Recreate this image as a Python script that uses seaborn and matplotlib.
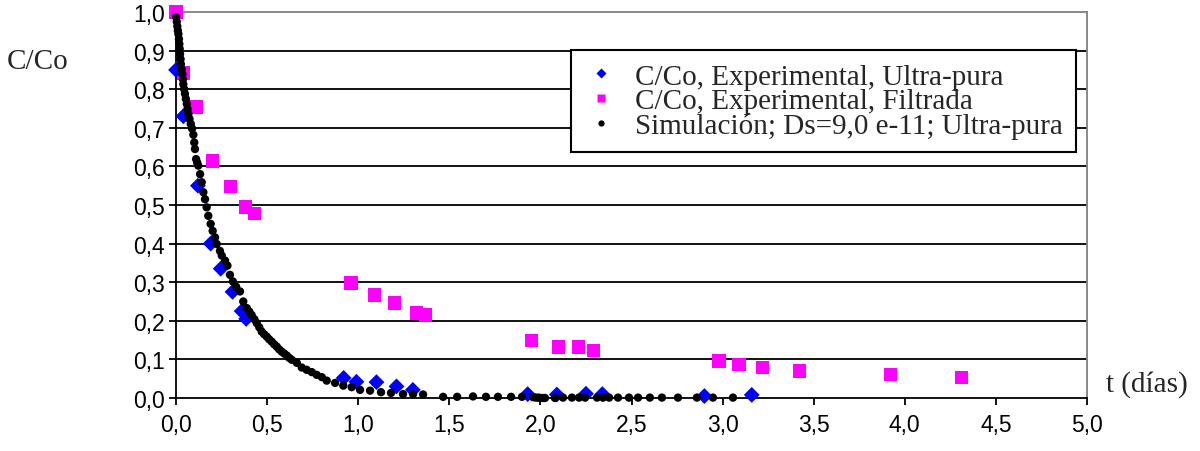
import matplotlib
matplotlib.use("Agg")
import matplotlib.pyplot as plt
from matplotlib.lines import Line2D
from matplotlib.ticker import FuncFormatter
import seaborn as sns
import pandas as pd

# Experimental C/Co, ultra-pure water
ultra_t = [0.0, 0.04, 0.12, 0.19, 0.245, 0.31, 0.36, 0.385, 0.92, 0.99, 1.10,
           1.21, 1.30, 1.93, 2.09, 2.25, 2.34, 2.90, 3.16]
ultra_c = [0.85, 0.73, 0.55, 0.40, 0.335, 0.275, 0.225, 0.205, 0.052, 0.042, 0.041,
           0.030, 0.021, 0.010, 0.009, 0.011, 0.010, 0.005, 0.008]

# Experimental C/Co, filtered water
filt_t = [0.0, 0.04, 0.11, 0.20, 0.30, 0.38, 0.43, 0.96, 1.09, 1.20, 1.32, 1.37,
          1.95, 2.10, 2.21, 2.29, 2.98, 3.09, 3.22, 3.42, 3.92, 4.31]
filt_c = [1.0, 0.842, 0.754, 0.614, 0.547, 0.495, 0.477, 0.298, 0.267, 0.246, 0.220, 0.215,
          0.148, 0.132, 0.132, 0.122, 0.096, 0.086, 0.080, 0.070, 0.060, 0.054]

# Simulated curve, Ds = 9.0e-11, ultra-pure water
sim_t = [0.000, 0.004, 0.007, 0.010, 0.013, 0.016, 0.018, 0.020, 0.022, 0.025,
         0.027, 0.031, 0.035, 0.038, 0.040, 0.045, 0.049, 0.054, 0.059, 0.063,
         0.068, 0.074, 0.081, 0.088, 0.095, 0.100, 0.104, 0.110, 0.116, 0.122,
         0.132, 0.141, 0.150, 0.159, 0.168, 0.177, 0.190, 0.201, 0.214, 0.223,
         0.241, 0.251, 0.269, 0.282, 0.296, 0.312, 0.330, 0.351, 0.369, 0.388,
         0.402, 0.415, 0.430, 0.443, 0.457, 0.470, 0.484, 0.498, 0.511, 0.525,
         0.539, 0.553, 0.566, 0.580, 0.594, 0.608, 0.621, 0.635, 0.663, 0.690,
         0.717, 0.745, 0.772, 0.800, 0.827, 0.873, 0.918, 0.964, 1.010, 1.065,
         1.125, 1.180, 1.246, 1.301, 1.356, 1.466, 1.543, 1.630, 1.701, 1.767,
         1.839, 1.899, 1.960, 1.975, 1.990, 1.998, 2.012, 2.025, 2.080, 2.124,
         2.173, 2.212, 2.245, 2.311, 2.344, 2.377, 2.426, 2.486, 2.536, 2.601,
         2.667, 2.755, 2.859, 2.947, 3.057]
sim_c = [0.987, 0.975, 0.963, 0.952, 0.943, 0.930, 0.917, 0.905, 0.891, 0.878,
         0.865, 0.852, 0.839, 0.826, 0.813, 0.800, 0.788, 0.775, 0.762, 0.749,
         0.736, 0.723, 0.710, 0.698, 0.682, 0.662, 0.645, 0.619, 0.610, 0.602,
         0.580, 0.559, 0.533, 0.515, 0.494, 0.472, 0.451, 0.433, 0.416, 0.399,
         0.381, 0.369, 0.356, 0.343, 0.319, 0.302, 0.288, 0.276, 0.250, 0.233,
         0.224, 0.215, 0.204, 0.194, 0.183, 0.172, 0.165, 0.159, 0.152, 0.146,
         0.139, 0.133, 0.126, 0.120, 0.115, 0.110, 0.104, 0.099, 0.091, 0.079,
         0.073, 0.067, 0.060, 0.054, 0.045, 0.039, 0.032, 0.028, 0.021, 0.019,
         0.015, 0.013, 0.010, 0.010, 0.009, 0.003, 0.003, 0.004, 0.003, 0.003,
         0.003, 0.003, 0.002, 0.001, 0.001, 0.000, 0.000, 0.000, 0.000, 0.001,
         0.001, 0.001, 0.001, 0.001, 0.001, 0.001, 0.001, 0.001, 0.001, 0.001,
         0.001, 0.001, 0.001, 0.001, 0.001]

x_ticks = [0.0, 0.5, 1.0, 1.5, 2.0, 2.5, 3.0, 3.5, 4.0, 4.5, 5.0]
y_ticks = [0.0, 0.1, 0.2, 0.3, 0.4, 0.5, 0.6, 0.7, 0.8, 0.9, 1.0]

label_ultra = "C/Co, Experimental, Ultra-pura"
label_filt = "C/Co, Experimental, Filtrada"
label_sim = "Simulación; Ds=9,0 e-11; Ultra-pura"

sns.set_theme(style="white")
plt.rcParams["font.family"] = ["Liberation Sans", "DejaVu Sans"]

fig = plt.figure(figsize=(12, 4.52), dpi=100)
ax = fig.add_axes([0.1467, 0.1173, 0.7591, 0.8539])

df_f = pd.DataFrame({"t": filt_t, "c": filt_c})
df_u = pd.DataFrame({"t": ultra_t, "c": ultra_c})
df_s = pd.DataFrame({"t": sim_t, "c": sim_c})

sns.scatterplot(data=df_f, x="t", y="c", ax=ax, marker="s", s=90, color="#ff00ff",
                edgecolor="none", linewidth=0, clip_on=False, zorder=3)
sns.scatterplot(data=df_u, x="t", y="c", ax=ax, marker="D", s=65, color="#0000ff",
                edgecolor="none", linewidth=0, clip_on=False, zorder=4)
sns.scatterplot(data=df_s, x="t", y="c", ax=ax, marker="o", s=36, color="black",
                edgecolor="none", linewidth=0, clip_on=False, zorder=5)

ax.set_xlim(0, 5.0)
ax.set_ylim(0, 1.0)
ax.set_xlabel("")
ax.set_ylabel("")
ax.set_xticks(x_ticks)
ax.set_yticks(y_ticks)
comma = FuncFormatter(lambda v, p: f"{v:.1f}".replace(".", ","))
ax.xaxis.set_major_formatter(comma)
ax.yaxis.set_major_formatter(comma)

# horizontal grid lines
for yv in y_ticks[1:-1]:
    ax.axhline(yv, color="black", lw=1.3, zorder=1)

for side in ("left", "bottom"):
    ax.spines[side].set_color("black")
    ax.spines[side].set_linewidth(1.3)
for side in ("top", "right"):
    ax.spines[side].set_color("#808080")
    ax.spines[side].set_linewidth(1.3)
    ax.spines[side].set_visible(True)

ax.tick_params(axis="both", which="major", direction="out", length=5, width=1.3,
               color="black", labelsize=16.5, labelcolor="black")
ax.tick_params(axis="x", pad=6, bottom=True)
ax.tick_params(axis="y", pad=3, left=True)

serif = ["Liberation Serif", "DejaVu Serif"]
fig.text(0.006, 0.863, "C/Co", family=serif, fontsize=21, va="center", ha="left")
fig.text(0.922, 0.150, "t (días)", family=serif, fontsize=21, va="center", ha="left")

handles = [
    Line2D([], [], ls="none", marker="D", markersize=4.8, color="#0000ff", mec="none"),
    Line2D([], [], ls="none", marker="s", markersize=5.4, color="#ff00ff", mec="none"),
    Line2D([], [], ls="none", marker="o", markersize=4.5, color="black", mec="none"),
]
leg = ax.legend(handles, [label_ultra, label_filt, label_sim],
                loc="upper left", bbox_to_anchor=(0.4336, 0.9016), borderaxespad=0,
                prop={"family": serif, "size": 21}, frameon=True, fancybox=False,
                edgecolor="black", framealpha=1, labelspacing=-0.07,
                handlelength=1.15, handletextpad=0.6, borderpad=0.45)
leg.get_frame().set_linewidth(1.5)
leg.set_zorder(10)

fig.savefig("out.png", dpi=100)
